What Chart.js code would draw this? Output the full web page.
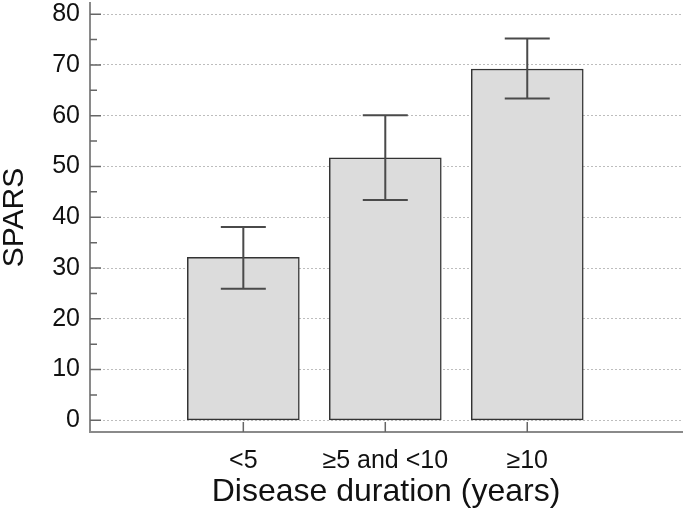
<!DOCTYPE html>
<html>
<head>
<meta charset="utf-8">
<script src="https://cdn.jsdelivr.net/npm/chart.js@4"></script>
<style>
	body { margin: 0; background: #ffffff; }
	canvas { display: block; }
</style>
</head>
<body>
<canvas id="sparsChart" width="685" height="514"></canvas>
<script>
// Chart data
const categories = ['<5', '≥5 and <10', '≥10'];
const positions = [1, 2, 3];
const meanSpars = [32.1, 51.7, 69.2];
const lowerSpars = [25.9, 43.4, 63.4];
const upperSpars = [38.1, 60.1, 75.2];
const yTicks = [0, 10, 20, 30, 40, 50, 60, 70, 80];
const yMinorTicks = [5, 15, 25, 35, 45, 55, 65, 75];

const fontFamily = '"Liberation Sans", Arial, sans-serif';
const axisColor = '#8a8a8a';

// Error bars + inward tick marks
const decorPlugin = {
	id: 'decor',
	afterDatasetsDraw(chart) {
		const ctx = chart.ctx;
		const x = chart.scales.x;
		const y = chart.scales.y;
		ctx.save();
		ctx.strokeStyle = '#4a4a4a';
		ctx.lineWidth = 2;
		for (let i = 0; i < positions.length; i++) {
			const px = x.getPixelForValue(positions[i]);
			const top = y.getPixelForValue(upperSpars[i]);
			const bot = y.getPixelForValue(lowerSpars[i]);
			ctx.beginPath();
			ctx.moveTo(px, top);
			ctx.lineTo(px, bot);
			ctx.moveTo(px - 22.5, top);
			ctx.lineTo(px + 22.5, top);
			ctx.moveTo(px - 22.5, bot);
			ctx.lineTo(px + 22.5, bot);
			ctx.stroke();
		}
		ctx.restore();
	},
	afterDraw(chart) {
		const ctx = chart.ctx;
		const x = chart.scales.x;
		const y = chart.scales.y;
		const left = chart.chartArea.left;
		const bottom = chart.chartArea.bottom;
		ctx.save();
		ctx.strokeStyle = '#666666';
		ctx.lineWidth = 1.5;
		ctx.beginPath();
		yTicks.forEach(v => {
			const py = y.getPixelForValue(v);
			ctx.moveTo(left, py);
			ctx.lineTo(left + 11, py);
		});
		yMinorTicks.forEach(v => {
			const py = y.getPixelForValue(v);
			ctx.moveTo(left, py);
			ctx.lineTo(left + 7, py);
		});
		positions.forEach(v => {
			const px = x.getPixelForValue(v);
			ctx.moveTo(px, bottom);
			ctx.lineTo(px, bottom - 10);
		});
		ctx.stroke();
		ctx.restore();
	}
};

function initChart() {
	const ctx = document.getElementById('sparsChart').getContext('2d');
	return new Chart(ctx, {
		type: 'bar',
		data: {
			datasets: [{
				label: 'SPARS',
				data: positions.map((p, i) => ({ x: p, y: meanSpars[i] })),
				backgroundColor: '#dcdcdc',
				borderColor: '#333333',
				borderWidth: 1.5,
				borderSkipped: false,
				barThickness: 112
			}]
		},
		options: {
			responsive: false,
			animation: false,
			layout: { padding: { top: 3, right: 3, left: 0, bottom: 0 } },
			plugins: {
				legend: { display: false },
				tooltip: { enabled: false }
			},
			scales: {
				x: {
					type: 'linear',
					offset: false,
					min: -0.08,
					max: 4.09,
					afterBuildTicks(scale) {
						scale.ticks = positions.map(v => ({ value: v }));
					},
					afterFit(scale) {
						scale.height = 82;
						scale.paddingLeft = 0;
						scale.paddingRight = 0;
					},
					grid: { color: 'rgba(0,0,0,0)', drawTicks: false },
					border: { color: axisColor, width: 2 },
					ticks: {
						color: '#111111',
						padding: 14,
						maxRotation: 0,
						autoSkip: false,
						font: { family: fontFamily, size: 25 },
						callback: (v) => categories[positions.indexOf(v)] || ''
					},
					title: {
						display: true,
						text: 'Disease duration (years)',
						color: '#111111',
						font: { family: fontFamily, size: 32, lineHeight: 1 },
						padding: { top: 0, bottom: 6 }
					}
				},
				y: {
					min: -2.3,
					max: 82.2,
					afterBuildTicks(scale) {
						scale.ticks = yTicks.map(v => ({ value: v }));
					},
					afterFit(scale) {
						scale.width = 90;
						scale.paddingTop = 0;
						scale.paddingBottom = 0;
					},
					grid: {
						color: '#bdbdbd',
						lineWidth: 1,
						drawTicks: false
					},
					border: { color: axisColor, width: 2, dash: [2, 2], display: true },
					ticks: {
						color: '#111111',
						padding: 10,
						font: { family: fontFamily, size: 25 }
					},
					title: {
						display: true,
						text: 'SPARS',
						color: '#111111',
						font: { family: fontFamily, size: 30, lineHeight: 1 },
						padding: { top: 0, bottom: 0 }
					}
				}
			}
		},
		plugins: [decorPlugin]
	});
}

initChart();
</script>
</body>
</html>
